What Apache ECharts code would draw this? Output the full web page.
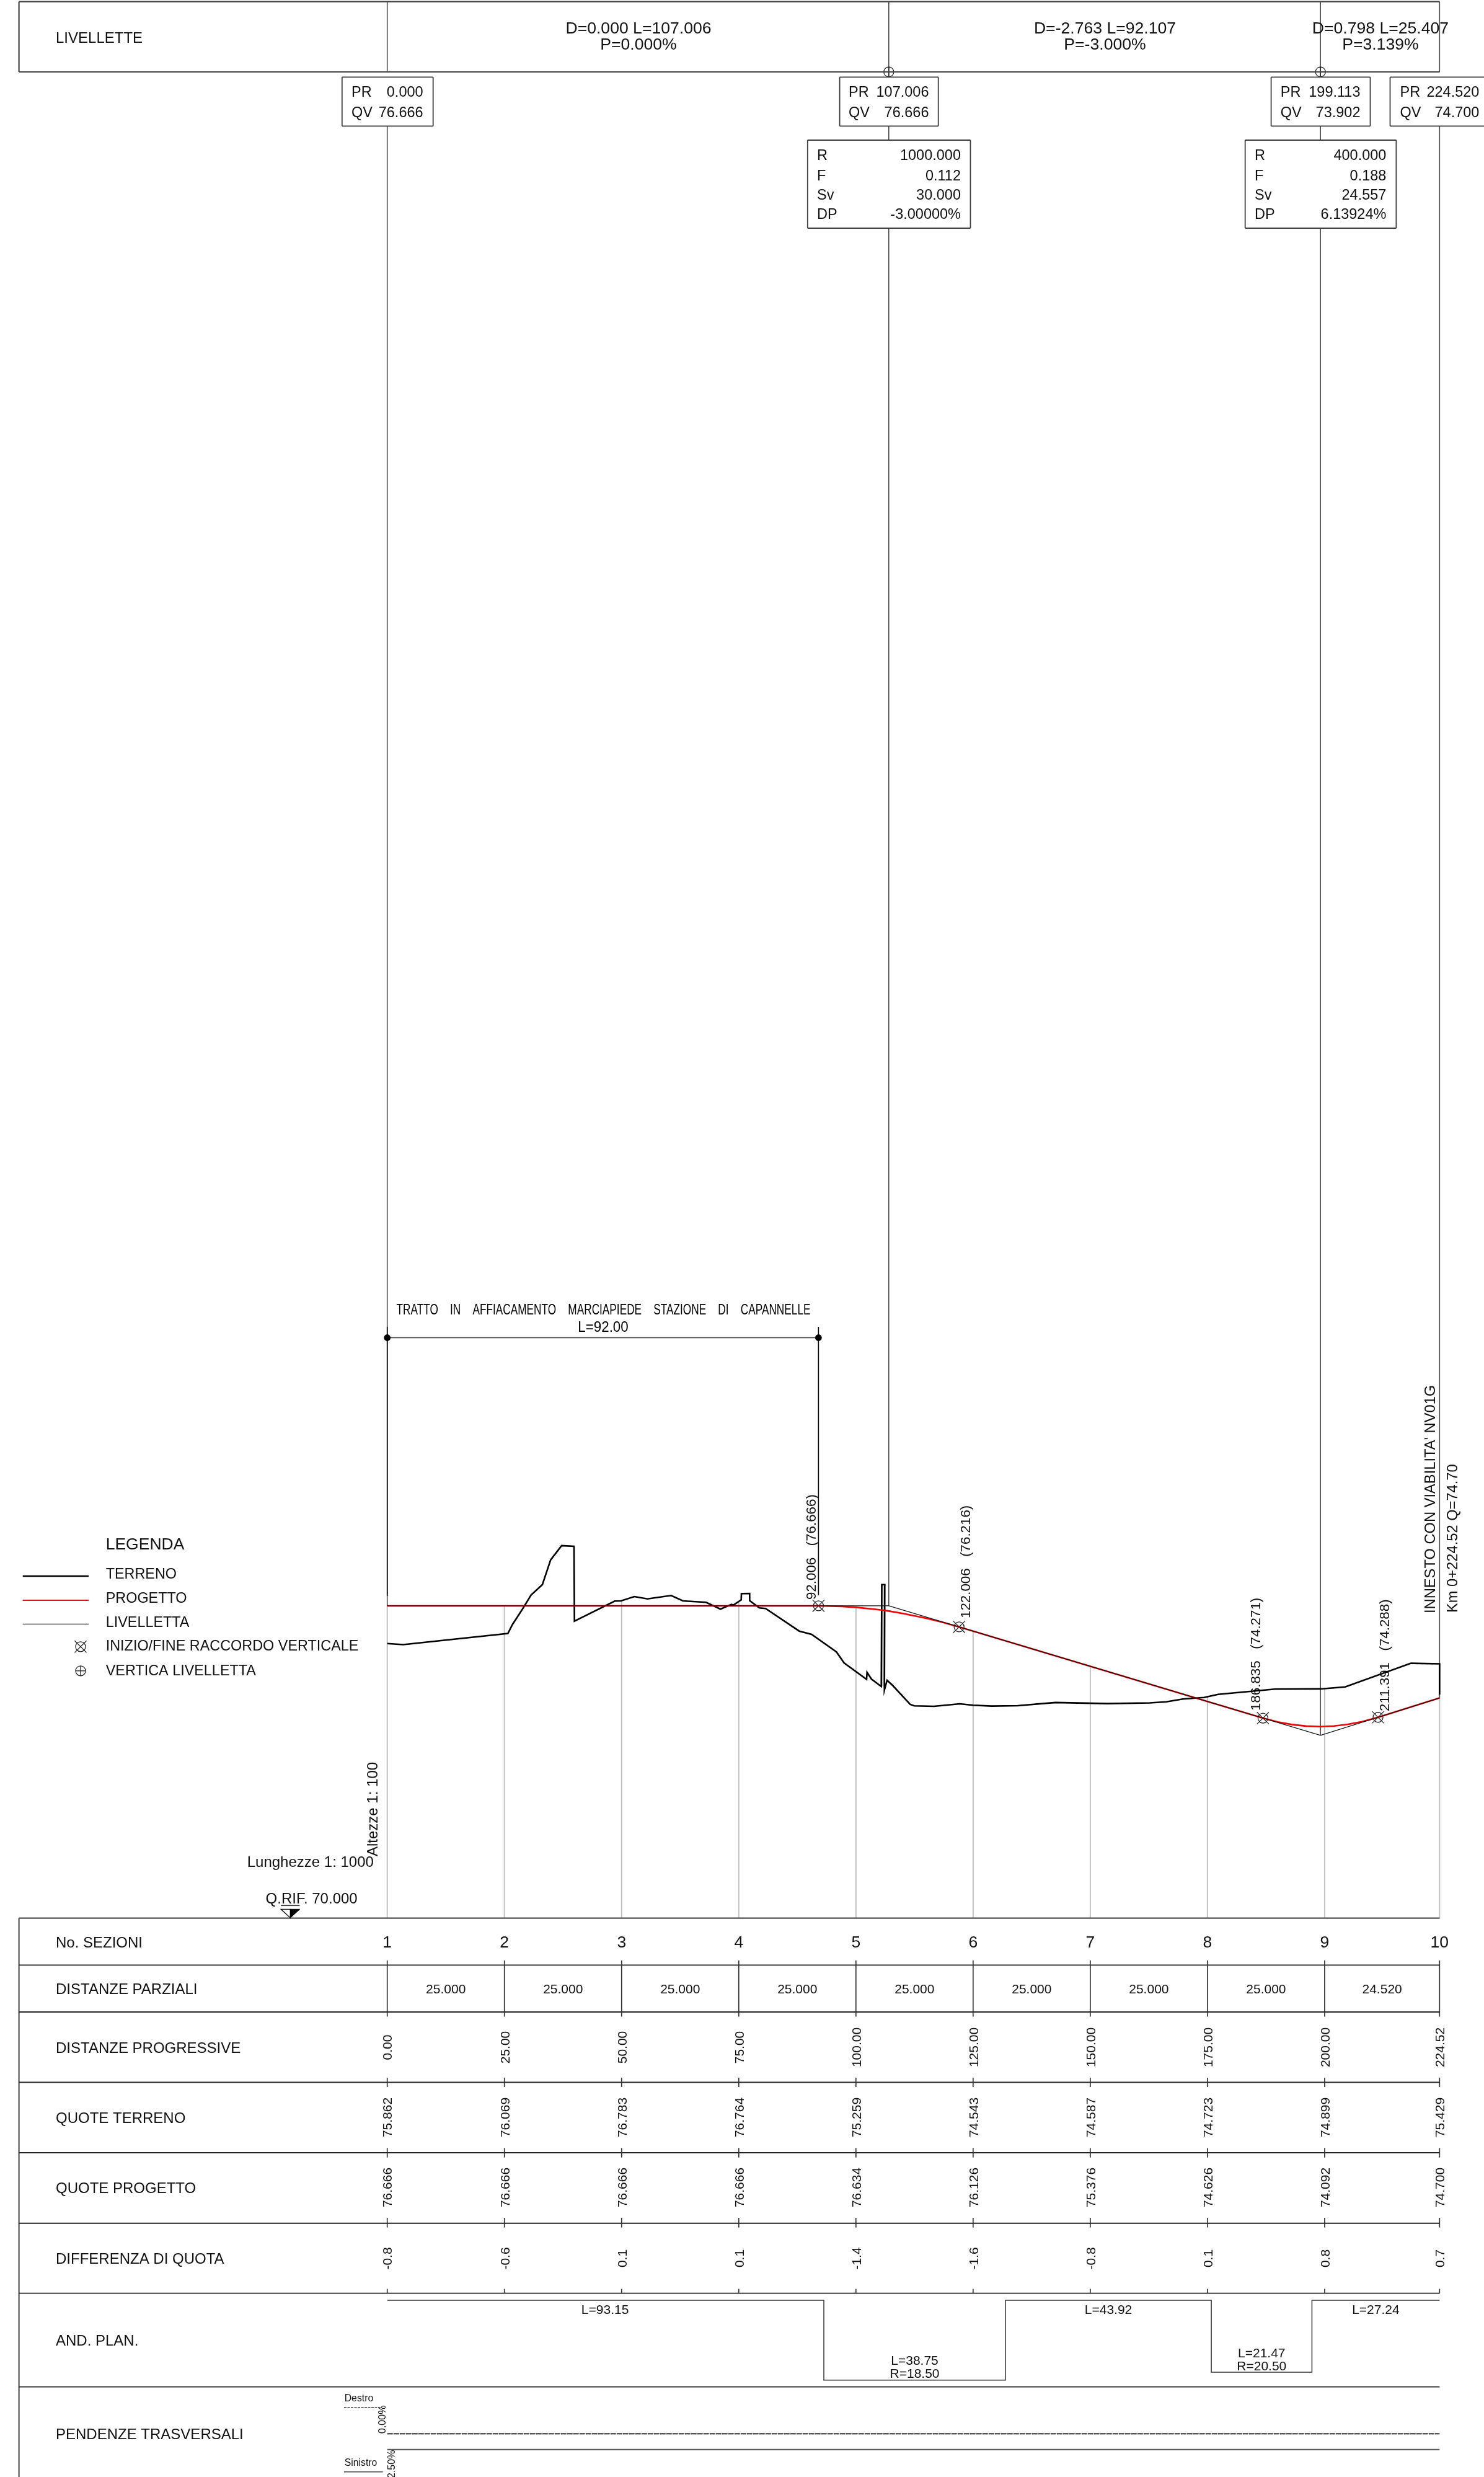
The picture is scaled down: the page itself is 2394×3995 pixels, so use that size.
<!DOCTYPE html>
<html>
<head>
<meta charset="utf-8">
<style>html,body{margin:0;padding:0;background:#fff}#c{width:2394px;height:3995px}</style>
<script src="https://cdn.jsdelivr.net/npm/echarts@6/dist/echarts.min.js"></script>
</head>
<body>
<div id="c"></div>
<script>
// ---------- DATA ----------
const sectionNumbers = ['1','2','3','4','5','6','7','8','9','10'];
const sectionDistances = [0,25,50,75,100,125,150,175,200,224.52];
const partialDistances = [25,25,25,25,25,25,25,25,24.52];
const quoteTerreno = [75.862,76.069,76.783,76.764,75.259,74.543,74.587,74.723,74.899,75.429];
const quoteProgetto = [76.666,76.666,76.666,76.666,76.634,76.126,75.376,74.626,74.092,74.700];
const differenzeQuota = ['-0.8','-0.6','0.1','0.1','-1.4','-1.6','-0.8','0.1','0.8','0.7'];

const terrenoProfile = [
 [0,75.862],[3.41,75.839],[25.74,76.075],[26.72,76.269],[27.59,76.401],[29.14,76.643],[30.68,76.895],[33.10,77.119],
 [34.86,77.645],[37.20,77.949],[39.85,77.935],[39.94,76.339],[48.54,76.768],[49.86,76.772],[52.72,76.864],[55.50,76.815],
 [60.57,76.887],[63.09,76.772],[68.02,76.741],[71.10,76.596],[73.44,76.696],[73.88,76.683],[75.52,76.794],[75.56,76.926],
 [77.32,76.930],[77.32,76.776],[79.39,76.622],[80.72,76.609],[87.90,76.127],[90.54,76.057],[95.83,75.683],[97.47,75.449],
 [102.27,75.096],[102.37,75.247],[103.33,75.101],[105.41,74.946],[105.51,77.119],[106.15,77.119],[106.07,74.867],[106.64,75.079],
 [107.83,74.969],[111.57,74.563],[112.46,74.533],[116.65,74.523],[122.15,74.576],[125.02,74.546],[128.99,74.527],[134.51,74.536],
 [142.56,74.603],[153.64,74.581],[162.70,74.596],[166.22,74.618],[169.75,74.679],[174.29,74.710],[177.27,74.778],[189.39,74.890],
 [199.09,74.894],[204.38,74.937],[218.40,75.440],[224.52,75.429],[224.52,74.775]
];
const wallBand = [[105.83,74.95],[105.83,77.10]];
const progettoProfile = [
 [0,76.666],[92.006,76.666],[97,76.654],[100,76.634],[105,76.582],[107.006,76.554],[110,76.504],[115,76.402],[118,76.328],
 [122.006,76.216],[125,76.126],[150,75.376],[175,74.626],[186.835,74.271],[190,74.189],[193,74.134],[196,74.101],[199.113,74.090],
 [202,74.103],[205,74.138],[208,74.196],[211.391,74.288],[224.52,74.700]
];
const livellettaProfile = [[0,76.666],[107.006,76.666],[199.113,73.902],[224.52,74.700]];

const raccordoPoints = [[92.006,76.666],[122.006,76.216],[186.835,74.271],[211.391,74.288]];
const raccordoLabels = ['92.006   (76.666)','122.006   (76.216)','186.835   (74.271)','211.391   (74.288)'];
const verticeDistances = [107.006,199.113];

const planLengths = [93.15,38.75,43.92,21.47,27.24];
const planRadii = [null,18.50,null,20.50,null];

const livelletteLabels = [['D=0.000 L=107.006','P=0.000%'],['D=-2.763 L=92.107','P=-3.000%'],['D=0.798 L=25.407','P=3.139%']];
const prLabels = ['0.000','107.006','199.113','224.520'];
const qvLabels = ['76.666','76.666','73.902','74.700'];
const curveRows = ['R','F','Sv','DP'];
const curve1Values = ['1000.000','0.112','30.000','-3.00000%'];
const curve2Values = ['400.000','0.188','24.557','6.13924%'];
const rowNames = ['No. SEZIONI','DISTANZE PARZIALI','DISTANZE PROGRESSIVE','QUOTE TERRENO','QUOTE PROGETTO','DIFFERENZA DI QUOTA','AND. PLAN.','PENDENZE TRASVERSALI'];
const legendNames = ['TERRENO','PROGETTO','LIVELLETTA','INIZIO/FINE RACCORDO VERTICALE','VERTICA LIVELLETTA'];

// ---------- LAYOUT ----------
const FONT = '"Liberation Sans", Arial, sans-serif';
const DARK = '#3c3c3c', INK = '#111';
const L = 30.6, R = 2322.4;
const tableTop = 3093.6;
const rowLines = [3169.4,3245,3358.5,3472,3585.7,3698.6,3849.6];
const rowNameY = [3132,3207.5,3302,3415.6,3528.6,3642.8,3774.8,3925.8];
const tickSpans = [[3161.8,3252.5],[3351,3366],[3464.5,3479.7],[3577,3592.6],[3691.6,3698.6]];
const planLevels = [3710,3838.8,3710,3826,3710];
const TEXT_NUDGE = 2;

const DIST = 0, PAGE = 1;           // x axis index; y axis index: 0 quota, 1 page

function lineS(data, color, width, dash, xi, yi) {
  return {type:'line', xAxisIndex:xi||0, yAxisIndex:yi||0, data, showSymbol:false, symbol:'none', silent:true,
    lineStyle:{color, width, type:dash||'solid', join:'miter', cap:'butt'}, animation:false};
}
function segS(segs, color, width, xi, yi, dash) {
  return {type:'custom', xAxisIndex:xi, yAxisIndex:yi, silent:true, animation:false, clip:false,
    data:segs, encode:{x:[0,2], y:[1,3]},
    renderItem:(p, api) => {
      const s = segs[p.dataIndex], a = api.coord([s[0],s[1]]), b = api.coord([s[2],s[3]]);
      return {type:'line', shape:{x1:a[0],y1:a[1],x2:b[0],y2:b[1]},
        style:{stroke:color, lineWidth:width, lineDash:dash||null, fill:null}};
    }};
}
function boxS(boxes) {
  const segs = [];
  boxes.forEach(b => { segs.push([b[0],b[1],b[2],b[1]],[b[2],b[1],b[2],b[3]],[b[2],b[3],b[0],b[3]],[b[0],b[3],b[0],b[1]]); });
  return segS(segs, DARK, 1.8, PAGE, PAGE);
}
function textS(items, xi, yi) {
  return {type:'custom', xAxisIndex:xi, yAxisIndex:yi, silent:true, animation:false, clip:false,
    data:items.map(t => [t.x,t.y]), encode:{x:0, y:1},
    renderItem:(p, api) => {
      const t = items[p.dataIndex], c = api.coord([t.x,t.y]);
      return {type:'text', x:c[0]+(t.rot?TEXT_NUDGE:0), y:c[1]+(t.rot?0:TEXT_NUDGE), rotation:t.rot?Math.PI/2:0, scaleX:t.sx||1, silent:true,
        style:{text:t.text, fill:t.fill||INK, font:(t.size)+'px '+FONT, align:t.align||'left', verticalAlign:'middle'}};
    }};
}
function markerS(points, kind, xi, yi, r) {
  return {type:'custom', xAxisIndex:xi, yAxisIndex:yi, silent:true, animation:false, clip:false,
    data:points, encode:{x:0, y:1},
    renderItem:(p, api) => {
      const pt = points[p.dataIndex], c = api.coord([pt[0],pt[1]]);
      const st = {stroke:'#222', lineWidth:1.3, fill:null};
      const kids = [{type:'circle', shape:{cx:c[0],cy:c[1],r}, style:st}];
      const q = kind === 'x' ? r*1.2 : r;
      if (kind === 'x') {
        kids.push({type:'line', shape:{x1:c[0]-q,y1:c[1]-q,x2:c[0]+q,y2:c[1]+q}, style:st},
                  {type:'line', shape:{x1:c[0]-q,y1:c[1]+q,x2:c[0]+q,y2:c[1]-q}, style:st});
      } else {
        kids.push({type:'line', shape:{x1:c[0]-q,y1:c[1],x2:c[0]+q,y2:c[1]}, style:st},
                  {type:'line', shape:{x1:c[0],y1:c[1]-q,x2:c[0],y2:c[1]+q}, style:st});
      }
      return {type:'group', children:kids};
    }};
}

const series = [];

// section gridlines, from the higher of the two profiles down to the reference level
series.push(segS(sectionDistances.map((d,i)=>[d,Math.max(quoteTerreno[i],quoteProgetto[i]),d,70]), '#c2c2c2', 2, DIST, 0));

// long verticals
series.push(segS([
  [0,2.7,0,116],[0,203.3,0,2590],
  [verticeDistances[0],2.7,verticeDistances[0],124.3],[verticeDistances[0],203.3,verticeDistances[0],226],[verticeDistances[0],368,verticeDistances[0],2590],
  [verticeDistances[1],2.7,verticeDistances[1],124.3],[verticeDistances[1],203.3,verticeDistances[1],226],[verticeDistances[1],368,verticeDistances[1],2798.8],
  [224.52,2.7,224.52,116],[224.52,203.3,224.52,2738]
], '#4a4a4a', 1.6, DIST, PAGE));
series.push(segS([[0,2140,0,2574],[92.006,2140,92.006,2573]], '#000', 1.6, DIST, PAGE));
series.push(segS([[0,2157.5,92.006,2157.5]], '#333', 1.6, DIST, PAGE));

// profiles
series.push(lineS(wallBand, '#cfcfcf', 4));
series.push(lineS(terrenoProfile, '#000', 2.6));
series.push(lineS(progettoProfile, '#f00000', 2.6));
series.push(lineS(livellettaProfile, '#111', 1.3));

// marks
series.push(markerS(raccordoPoints, 'x', DIST, 0, 8));
series.push(markerS(verticeDistances.map(d=>[d,116]), 'plus', DIST, PAGE, 8));
series.push({type:'custom', xAxisIndex:DIST, yAxisIndex:PAGE, silent:true, animation:false, clip:false,
  data:[[0,2157.5],[92.006,2157.5]], encode:{x:0,y:1},
  renderItem:(p,api)=>{const v=[api.value(0),api.value(1)],c=api.coord(v);
    return {type:'circle',shape:{cx:c[0],cy:c[1],r:5.4},style:{fill:'#000'}};}});

// top frame and boxes
series.push(segS([[L,2.7,R,2.7],[L,116,R,116],[L,2.7,L,116]], '#444', 2.2, PAGE, PAGE));
series.push(boxS([[551.8,124.3,698.7,203.3],[1354.6,124.3,1513.7,203.3],[2050.6,124.3,2210.5,203.3],[2242.5,124.3,2402,203.3],
                  [1302.8,226,1565.5,368],[2008.7,226,2252.4,368]]));

// table
series.push(segS([[L,tableTop,R,tableTop],[L,tableTop,L,3995]], '#555', 2.2, PAGE, PAGE));
series.push(segS(rowLines.map(y=>[L,y,R,y]), '#222', 1.9, PAGE, PAGE));
const ticks = [];
sectionDistances.forEach(d => tickSpans.forEach(s => ticks.push([d,s[0],d,s[1]])));
series.push(segS(ticks, '#333', 1.7, DIST, PAGE));

// plan alignment, stepped from the segment lengths
const planPath = []; let run = 0;
planLengths.forEach((len,i)=>{ planPath.push([run,planLevels[i]]); run += len; planPath.push([run,planLevels[i]]); });
series.push(lineS(planPath, '#333', 1.5, 'solid', DIST, PAGE));

// cross-fall lines
series.push(segS([[0,3925.3,224.52,3925.3]], '#000', 1.8, DIST, PAGE, [9,1]));
series.push(segS([[0,3950.7,224.52,3950.7]], '#555', 2, DIST, PAGE));
series.push(segS([[555,3883.3,614,3883.3]], '#333', 1.4, PAGE, PAGE, [4,1.5]));
series.push(segS([[555,3986.7,617.7,3986.7]], '#444', 1.6, PAGE, PAGE));

// Q.RIF. symbol
series.push(segS([[453,3073.3,483.5,3073.3]], '#333', 1.6, PAGE, PAGE));
series.push({type:'custom', xAxisIndex:PAGE, yAxisIndex:PAGE, silent:true, animation:false, clip:false,
  data:[[468.4,3093.3]], encode:{x:0,y:1},
  renderItem:(p,api)=>{const c=api.coord([468.4,3093.3]);
    return {type:'group',children:[
      {type:'polygon',shape:{points:[[c[0]-15.2,c[1]-14],[c[0],c[1]-14],[c[0],c[1]]]},style:{fill:'#fff',stroke:'#111',lineWidth:1.3}},
      {type:'polygon',shape:{points:[[c[0],c[1]-14],[c[0]+15.2,c[1]-14],[c[0],c[1]]]},style:{fill:'#000',stroke:'#000',lineWidth:1}}]};}});

// legend samples
series.push(segS([[36.7,2542,143,2542]], '#000', 2.6, PAGE, PAGE));
series.push(segS([[36.7,2581,143,2581]], '#e01010', 2.2, PAGE, PAGE));
series.push(segS([[36.7,2619.4,143,2619.4]], '#333', 1.3, PAGE, PAGE));
series.push(markerS([[130,2655.8]], 'x', PAGE, PAGE, 8));
series.push(markerS([[130,2694.8]], 'plus', PAGE, PAGE, 8));

// ---------- TEXT ----------
const pageT = [];
pageT.push({text:'LIVELLETTE', x:90, y:60, size:24});
[1030,1782.5,2226.9].forEach((x,i)=>{
  pageT.push({text:livelletteLabels[i][0], x, y:45, size:26.6, align:'center'});
  pageT.push({text:livelletteLabels[i][1], x, y:71, size:26.6, align:'center'});
});
[[567,682.6],[1369,1498.5],[2065.8,2194.5],[2258.5,2386.4]].forEach((c,i)=>{
  pageT.push({text:'PR', x:c[0], y:148, size:23.5});
  pageT.push({text:'QV', x:c[0], y:181, size:23.5});
  pageT.push({text:prLabels[i], x:c[1], y:148, size:23.5, align:'right'});
  pageT.push({text:qvLabels[i], x:c[1], y:181, size:23.5, align:'right'});
});
[[1318,1550,curve1Values],[2024,2236.4,curve2Values]].forEach(c=>{
  [250,282.5,313.5,345].forEach((y,i)=>{
    pageT.push({text:curveRows[i], x:c[0], y, size:23.5});
    pageT.push({text:c[2][i], x:c[1], y, size:23.5, align:'right'});
  });
});
pageT.push({text:'TRATTO    IN    AFFIACAMENTO    MARCIAPIEDE    STAZIONE    DI    CAPANNELLE', x:973.5, y:2112, size:23.3, align:'center', sx:0.74, fill:'#000'});
pageT.push({text:'L=92.00', x:973, y:2140, size:23.3, align:'center', sx:0.96, fill:'#000'});
pageT.push({text:'LEGENDA', x:170.7, y:2490, size:26.5});
[2538,2577,2616,2654,2693.5].forEach((y,i)=>pageT.push({text:legendNames[i], x:170.7, y, size:23.4}));
pageT.push({text:'Altezze 1: 100', x:600.7, y:2994, size:24, rot:true});
pageT.push({text:'Lunghezze 1: 1000', x:398.7, y:3002.6, size:24});
pageT.push({text:'Q.RIF. 70.000', x:428.6, y:3061, size:24});
pageT.push({text:"INNESTO CON VIABILITA' NV01G", x:2306.5, y:2602, size:23.7, rot:true});
pageT.push({text:'Km 0+224.52 Q=74.70', x:2342, y:2601, size:23.7, rot:true});
rowNames.forEach((t,i)=>pageT.push({text:t, x:90, y:rowNameY[i], size:24}));
pageT.push({text:'Destro', x:555.7, y:3866.7, size:15.8});
pageT.push({text:'Sinistro', x:555.7, y:3971, size:15.8});
pageT.push({text:'0.00%', x:616, y:3925, size:16, rot:true});
pageT.push({text:'2.50%', x:630.7, y:3997, size:16, rot:true});
series.push(textS(pageT, PAGE, PAGE));

const distT = [];
sectionDistances.forEach((d,i)=>{
  distT.push({text:sectionNumbers[i], x:d, y:3132, size:26.5, align:'center'});
  distT.push({text:d.toFixed(2), x:d, y:3302, size:21, align:'center', rot:true});
  distT.push({text:quoteTerreno[i].toFixed(3), x:d, y:3415, size:21, align:'center', rot:true});
  distT.push({text:quoteProgetto[i].toFixed(3), x:d, y:3528, size:21, align:'center', rot:true});
  distT.push({text:differenzeQuota[i], x:d, y:3642.5, size:21, align:'center', rot:true});
});
partialDistances.forEach((v,i)=>{
  distT.push({text:v.toFixed(3), x:(sectionDistances[i]+sectionDistances[i+1])/2, y:3207.5, size:21, align:'center'});
});
let acc = 0;
planLengths.forEach((len,i)=>{
  const mid = acc + len/2 + (i===0?-0.1:0); acc += len;
  if (planRadii[i] === null) {
    distT.push({text:'L='+len.toFixed(2), x:mid, y:3724.6, size:21, align:'center'});
  } else {
    const base = i===1 ? 3805.8 : 3793.8;
    distT.push({text:'L='+len.toFixed(2), x:mid, y:base, size:21, align:'center'});
    distT.push({text:'R='+planRadii[i].toFixed(2), x:mid, y:base+21, size:21, align:'center'});
  }
});
series.push(textS(distT, DIST, PAGE));

// raccordo labels: baseline offsets from each mark
const raccordoT = raccordoPoints.map((pt,i)=>({text:raccordoLabels[i], x:pt[0]+[-1.63,1.26,-1.62,1.26][i], y:[2580,2610,2759,2760][i], size:22.3, rot:true}));
series.push(textS(raccordoT, DIST, PAGE));

const hidden = {show:false, axisLine:{show:false}, axisTick:{show:false}, axisLabel:{show:false}, splitLine:{show:false}};
const chart = echarts.init(document.getElementById('c'), null, {renderer:'canvas', width:2394, height:3995});
chart.setOption({
  animation:false,
  backgroundColor:'#fff',
  grid:{left:0, right:0, top:0, bottom:0, containLabel:false},
  xAxis:[
    Object.assign({type:'value', min:-82.62, max:234.0, position:'bottom'}, hidden),
    Object.assign({type:'value', min:0, max:2394, position:'top'}, hidden)
  ],
  yAxis:[
    Object.assign({type:'value', min:58.083, max:110.92, position:'left'}, hidden),
    Object.assign({type:'value', min:0, max:3995, inverse:true, position:'right'}, hidden)
  ],
  series
});
</script>
</body>
</html>
